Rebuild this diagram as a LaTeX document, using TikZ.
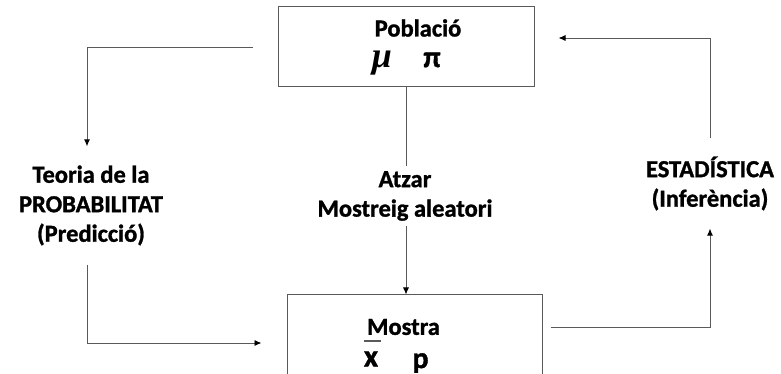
\documentclass[tikz,border=0pt]{standalone}
\usepackage{fontspec}
\setmainfont{Carlito}[BoldFeatures={FakeBold=1.2}]
\newfontfamily\serifgr{Liberation Serif}
\usetikzlibrary{arrows.meta,calc}
\definecolor{linegray}{RGB}{90,90,90}
\begin{document}
\begin{tikzpicture}[x=1pt,y=1pt,
  conn/.style={draw=linegray, line width=0.9pt},
  arr/.style={conn, -{Latex[length=7pt,width=6pt,color=black]}},
  box/.style={draw=linegray, line width=1pt, inner sep=0},
  lbl/.style={font=\bfseries\fontsize{24.5}{29.5}\selectfont, align=center, inner sep=0},
  sym/.style={inner sep=0}
]
\useasboundingbox (0,0) rectangle (781,374);
% top box
\node[box, minimum width=256, minimum height=80] (pob) at (406,327) {};
\node[lbl] (pobt) at (418,346) {Població};
\node[sym, font=\serifgr\bfseries\itshape\fontsize{36}{36}\selectfont] (mu) at (382,311) {μ};
\node[sym, font=\bfseries\fontsize{30}{30}\selectfont] (pi) at (432,314) {π};
% bottom box
\node[box, minimum width=255, minimum height=96] (mos) at (414.5,31) {};
\node[lbl] (most) at (403.5,47) {Mostra};
\node[sym, font=\bfseries\fontsize{31}{31}\selectfont] (xb) at (371,15) {x};
\node[sym, font=\bfseries\fontsize{30}{30}\selectfont] (pp) at (420.5,11) {p};
\draw[line width=1.6pt, linegray] ($(xb.north west)+(0,10)$) -- ++(17,0);
% middle
\node[lbl, inner ysep=5] (atz) at (405,178) {Atzar\\Mostreig aleatori};
\draw[conn] (pob.south) -- (pob.south |- atz.north);
\draw[arr] (pob.south |- atz.south) -- (pob.south |- mos.north);
% left
\node[lbl, inner ysep=19] (teo) at (91,168.5) {Teoria de la\\PROBABILITAT\\(Predicció)};
\coordinate (ls) at ($(pob.west)+(-25,0)$);
\coordinate (lc1) at (87,327);
\draw[arr] (ls) -- (lc1) -- (lc1 |- teo.north);
\coordinate (lc2) at (87,31);
\coordinate (le) at ($(mos.west)+(-25,0)$);
\draw[arr] (lc2 |- teo.south) -- (lc2) -- (le);
% right
\node[lbl, inner ysep=18] (est) at (710,190.5) {ESTADÍSTICA\\(Inferència)};
\coordinate (rs) at ($(mos.east)+(8,16)$);
\coordinate (rc1) at (710,47);
\draw[arr] (rs) -- (rc1) -- (rc1 |- est.south);
\coordinate (rc2) at (710,336);
\coordinate (re) at ($(pob.east |- rc2)+(24,0)$);
\draw[arr] (rc2 |- est.north) -- (rc2) -- (re);
\end{tikzpicture}
\end{document}
